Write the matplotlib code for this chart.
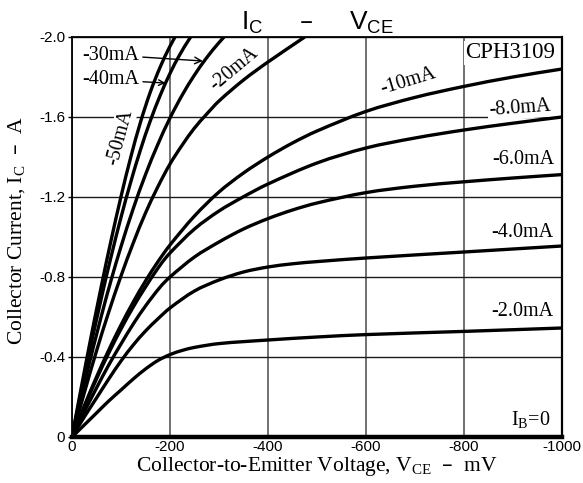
import numpy as np
import matplotlib
matplotlib.use("Agg")
import matplotlib.pyplot as plt
from matplotlib.path import Path
from matplotlib.patches import PathPatch

# ---- data (VCE in mV, IC in A) ----
vce_2mA = [0, -25, -50, -75, -100, -125, -150, -175, -200, -225, -250, -300, -400, -500, -600, -800, -1000]
ic_2mA = [0, -0.06, -0.12, -0.18, -0.235, -0.29, -0.34, -0.382, -0.412, -0.433, -0.448, -0.467, -0.485, -0.5, -0.512, -0.528, -0.545]

vce_4mA = [0, -25, -50, -75, -100, -125, -150, -175, -200, -250, -300, -350, -400, -450, -500, -600, -800, -1000]
ic_4mA = [0, -0.1, -0.195, -0.29, -0.38, -0.46, -0.53, -0.59, -0.645, -0.73, -0.785, -0.825, -0.85, -0.866, -0.877, -0.895, -0.925, -0.955]

vce_6mA = [0, -25, -50, -75, -100, -125, -150, -180, -200, -250, -300, -350, -400, -450, -500, -600, -700, -800, -900, -1000]
ic_6mA = [0, -0.125, -0.245, -0.36, -0.465, -0.565, -0.655, -0.75, -0.8, -0.9, -0.975, -1.04, -1.092, -1.135, -1.17, -1.222, -1.254, -1.276, -1.295, -1.312]

vce_8mA = [0, -25, -50, -75, -100, -125, -150, -180, -200, -250, -300, -349, -400, -500, -600, -700, -800, -900, -1000]
ic_8mA = [0, -0.15, -0.29, -0.42, -0.54, -0.65, -0.75, -0.86, -0.92, -1.04, -1.13, -1.2, -1.265, -1.37, -1.445, -1.495, -1.535, -1.569, -1.6]

vce_10mA = [0, -25, -50, -75, -100, -125, -150, -175, -200, -250, -300, -350, -400, -450, -500, -600, -700, -800, -900, -1000]
ic_10mA = [0, -0.155, -0.30, -0.435, -0.56, -0.675, -0.78, -0.875, -0.96, -1.105, -1.225, -1.32, -1.40, -1.47, -1.53, -1.628, -1.698, -1.753, -1.80, -1.84]

vce_20mA = [0, -25, -50, -75, -100, -125, -150, -175, -200, -225, -250, -275, -300, -350, -400, -475]
ic_20mA = [0, -0.22, -0.43, -0.625, -0.805, -0.97, -1.12, -1.25, -1.365, -1.46, -1.545, -1.615, -1.68, -1.785, -1.875, -2.0]

vce_30mA = [0, -30, -60, -80, -100, -125, -150, -175, -200, -225, -250, -275, -300, -320]
ic_30mA = [0, -0.315, -0.606, -0.786, -0.952, -1.142, -1.312, -1.462, -1.595, -1.71, -1.81, -1.897, -1.972, -2.026]

vce_40mA = [0, -30, -60, -80, -100, -120, -140, -160, -180, -200, -220, -240, -250]
ic_40mA = [0, -0.36, -0.696, -0.904, -1.098, -1.276, -1.438, -1.582, -1.708, -1.818, -1.912, -1.992, -2.027]

vce_50mA = [0, -30, -60, -80, -100, -120, -140, -160, -180, -200, -215]
ic_50mA = [0, -0.39, -0.756, -0.986, -1.202, -1.40, -1.576, -1.726, -1.85, -1.954, -2.02]

curves = [(vce_2mA, ic_2mA), (vce_4mA, ic_4mA), (vce_6mA, ic_6mA), (vce_8mA, ic_8mA),
          (vce_10mA, ic_10mA), (vce_20mA, ic_20mA), (vce_30mA, ic_30mA),
          (vce_40mA, ic_40mA), (vce_50mA, ic_50mA)]

x_ticks = [0, -200, -400, -600, -800, -1000]
x_tick_labels = ["0", "-200", "-400", "-600", "-800", "-1000"]
y_ticks = [0, -0.4, -0.8, -1.2, -1.6, -2.0]
y_tick_labels = ["0", "-0.4", "-0.8", "-1.2", "-1.6", "-2.0"]

SERIF = ["Liberation Serif", "DejaVu Serif"]
SANS = ["Liberation Sans", "DejaVu Sans"]

W, H = 583, 483
fig = plt.figure(figsize=(W / 100, H / 100), dpi=100)
ax = fig.add_axes([72 / W, 46 / H, 490 / W, 400 / H])
ax.set_xlim(0, -1000)
ax.set_ylim(0, -2.0)


def smooth_path(xs, ys):
    """Bezier path passing through the data points (drawn in data coords)."""
    sx, sy = 490 / 1000.0, 400 / 2.0   # approx px per unit, for tangent estimation
    p = np.column_stack([np.asarray(xs, float) * sx, np.asarray(ys, float) * sy])
    n = len(p)
    d = np.linalg.norm(np.diff(p, axis=0), axis=1)
    m = np.zeros_like(p)
    m[0] = (p[1] - p[0]) / d[0]
    m[-1] = (p[-1] - p[-2]) / d[-1]
    for i in range(1, n - 1):
        m[i] = (p[i + 1] - p[i - 1]) / (d[i - 1] + d[i])
    verts = [p[0]]
    codes = [Path.MOVETO]
    for i in range(n - 1):
        c1 = p[i] + m[i] * d[i] / 3.0
        c2 = p[i + 1] - m[i + 1] * d[i] / 3.0
        verts += [c1, c2, p[i + 1]]
        codes += [Path.CURVE4] * 3
    verts = np.array(verts)
    verts[:, 0] /= sx
    verts[:, 1] /= sy
    return Path(verts, codes)


for vx, iy in curves:
    patch = PathPatch(smooth_path(vx, iy), facecolor="none", edgecolor="black",
                      lw=2.4, zorder=3, capstyle="butt", joinstyle="round")
    ax.add_patch(patch)

ax.set_xticks(x_ticks)
ax.set_xticklabels(x_tick_labels, fontfamily=SANS, fontsize=11)
ax.set_yticks(y_ticks)
ax.set_yticklabels(y_tick_labels, fontfamily=SANS, fontsize=11)
ax.tick_params(axis="x", length=0, pad=2)
ax.tick_params(axis="y", length=3, width=1, pad=2, direction="out")

ax.set_axisbelow(True)
ax.xaxis.grid(True, color="#707070", lw=1.4, zorder=0.5)
ax.yaxis.grid(True, color="#1a1a1a", lw=1.0, zorder=0.5)

for s in ["left", "top"]:
    ax.spines[s].set_linewidth(1.3)
ax.spines["right"].set_linewidth(1.6)
ax.spines["bottom"].set_linewidth(3.2)

box = dict(facecolor="white", edgecolor="none", pad=1.0)
lab = dict(fontfamily=SERIF, fontsize=14.5, color="black", zorder=2.5)

ax.annotate("-30mA", xy=(-267, -1.88), xytext=(-20, -1.91), ha="left", va="center",
            arrowprops=dict(arrowstyle="->", lw=1.0, color="black", shrinkA=1, shrinkB=0,
                            mutation_scale=12), **lab)
ax.annotate("-40mA", xy=(-191, -1.77), xytext=(-20, -1.785), ha="left", va="center",
            arrowprops=dict(arrowstyle="->", lw=1.0, color="black", shrinkA=1, shrinkB=0,
                            mutation_scale=10), **lab)
ax.text(-98, -1.5, "-50mA", rotation=75, ha="center", va="center", rotation_mode="anchor",
        bbox=box, **lab)
ax.text(-330, -1.84, "-20mA", rotation=40, ha="center", va="center", rotation_mode="anchor",
        bbox=box, **lab)
ax.text(-686, -1.78, "-10mA", rotation=17, ha="center", va="center", rotation_mode="anchor",
        bbox=box, **lab)
ax.text(-914, -1.645, "-8.0mA", rotation=4, ha="center", va="center", rotation_mode="anchor",
        bbox=box, **lab)
ax.text(-922, -1.385, "-6.0mA", ha="center", va="center", bbox=box, **lab)
ax.text(-920, -1.025, "-4.0mA", ha="center", va="center", bbox=box, **lab)
ax.text(-918, -0.625, "-2.0mA", ha="center", va="center", bbox=box, **lab)
ax.text(-937, -0.085, r"$\mathregular{I_B}$=0", ha="center", va="center", bbox=box, **lab)
ax.text(-894, -1.92, "CPH3109", ha="center", va="center", bbox=box,
        fontfamily=SERIF, fontsize=16.5, zorder=2.5)

ax.set_title(r"$\mathregular{I_C}$     –     $\mathregular{V_{CE}}$", fontfamily=SANS,
             fontsize=19, pad=5)

fig.text(317 / W, 1 - 471 / H, r"Collector-to-Emitter Voltage, $\mathregular{V_{CE}}$  –  mV",
         ha="center", va="baseline", fontfamily=SERIF, fontsize=15.5)
fig.text(17 / W, 1 - 230 / H, r"Collector Current, $\mathregular{I_C}$  –  A",
         ha="center", va="center", rotation=90, fontfamily=SERIF, fontsize=15.5)

fig.savefig("out.png", dpi=100, facecolor="white")
